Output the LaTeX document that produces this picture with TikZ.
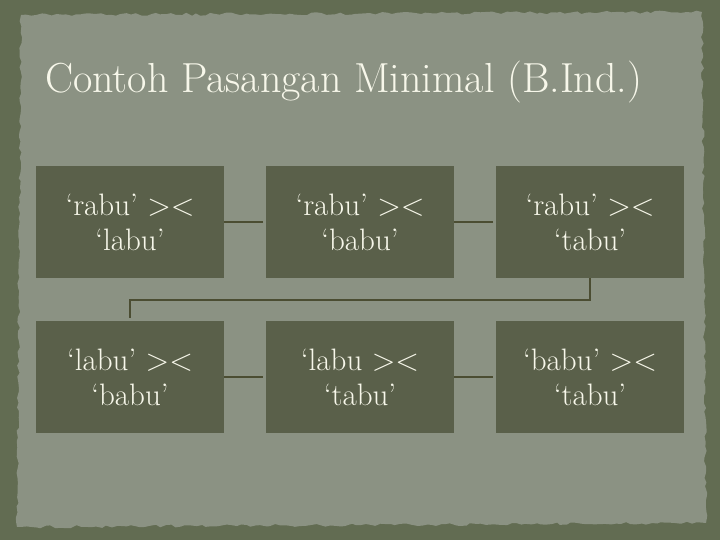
\documentclass[tikz,border=0pt]{standalone}
\usetikzlibrary{positioning,decorations.pathmorphing}
\definecolor{boardgreen}{HTML}{626C52}
\definecolor{papergreen}{HTML}{8B9283}
\definecolor{boxgreen}{HTML}{5A604A}
\definecolor{linegreen}{HTML}{4B4D32}
\definecolor{chalk}{HTML}{F7F7EA}
\begin{document}
\begin{tikzpicture}[x=1pt, y=-1pt, shorten >=3pt,
    pair_style/.style={rectangle, fill=boxgreen, minimum width=188pt, minimum height=112pt,
      inner sep=0pt, align=center, text=chalk, font=\fontsize{31}{35}\selectfont},
    link_style/.style={draw=linegreen, line width=2pt},
    title_style/.style={anchor=base west, inner sep=0pt, text=chalk, font=\fontsize{42}{48}\selectfont}]

    \useasboundingbox (0,0) rectangle (720,540);
    \pgfmathsetseed{7}
    \fill[boardgreen] (0,0) rectangle (720,540);
    \fill[papergreen, decorate, decoration={random steps, segment length=5pt, amplitude=1.5pt}]
      (21,15) -- (702,12) -- (706,523) -- (17,527) -- cycle;

    \node[title_style] (title) at (45,93) {Contoh Pasangan Minimal (B.Ind.)};

    \node[pair_style] (p1) at (130,222) {`rabu' ><\\`labu'};
    \node[pair_style] (p2) at (360,222) {`rabu' ><\\`babu'};
    \node[pair_style] (p3) at (590,222) {`rabu' ><\\`tabu'};
    \node[pair_style] (p4) at (130,377) {`labu' ><\\`babu'};
    \node[pair_style] (p5) at (360,377) {`labu ><\\`tabu'};
    \node[pair_style] (p6) at (590,377) {`babu' ><\\`tabu'};

    \draw[link_style] (p1) -- (p2);
    \draw[link_style] (p2) -- (p3);
    \draw[link_style] (p3.south) -- ++(0,22) -| (p4.north);
    \draw[link_style] (p4) -- (p5);
    \draw[link_style] (p5) -- (p6);
\end{tikzpicture}
\end{document}
